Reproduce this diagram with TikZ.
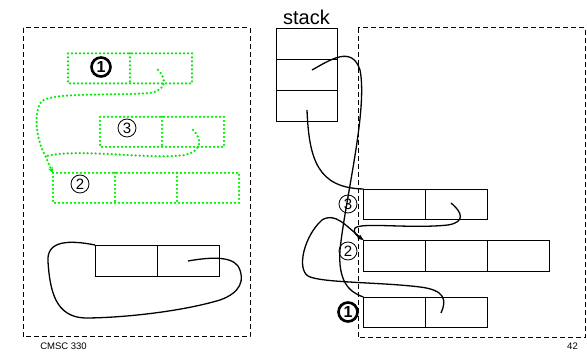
\documentclass[tikz,border=0pt]{standalone}
\usepackage{fontspec}
\setmainfont{Liberation Sans}
\usetikzlibrary{arrows.meta}
\definecolor{gr}{RGB}{0,235,0}
\begin{document}
\begin{tikzpicture}[x=1pt,y=-1pt,
 cell/.style={draw, minimum width=62pt, minimum height=30pt, inner sep=0pt, outer sep=0pt, line width=0.8pt},
 gcell/.style={cell, draw=none},
 gdot/.style={draw=gr, line width=2.5pt, dash pattern=on 0pt off 4pt, line cap=round},
 frame/.style={draw, line width=1pt, dash pattern=on 5pt off 3pt},
 ptr/.style={line width=1.3pt},
 gptr/.style={gdot},
 num/.style={circle, draw, line width=0.8pt, minimum size=18pt, inner sep=0pt, font=\fontsize{15}{15}\selectfont},
 bnum/.style={num, line width=2.6pt, minimum size=19pt, font=\fontsize{16}{16}\selectfont\bfseries},
 lbl/.style={font=\fontsize{9.5}{10}\selectfont},
]
\useasboundingbox (0,0) rectangle (587,352);

% frames
\draw[frame] (23,28) rectangle (250,337);
\draw[frame] (358,28) rectangle (585,338);

% stack
\node[font=\fontsize{20}{20}\selectfont, anchor=base] (stacklbl) at (306.5,25) {stack};
\node[cell, minimum width=61pt, minimum height=31pt] (s1) at (306.5,43.5) {};
\node[cell, minimum width=61pt, minimum height=31pt] (s2) at (306.5,74.5) {};
\node[cell, minimum width=61pt, minimum height=31pt] (s3) at (306.5,105.5) {};

% green boxes
\node[gcell] (g1a) at (99,68.5) {};
\node[gcell] (g1b) at (161,68.5) {};
\node[gcell] (g3a) at (131,132) {};
\node[gcell] (g3b) at (193,132) {};
\node[gcell] (g2a) at (84,188) {};
\node[gcell] (g2b) at (146,188) {};
\node[gcell] (g2c) at (208,188) {};
\draw[gdot] (g1a.north west) rectangle (g1b.south east);
\draw[gdot] (g1a.north east) -- (g1a.south east);
\draw[gdot] (g3a.north west) rectangle (g3b.south east);
\draw[gdot] (g3a.north east) -- (g3a.south east);
\draw[gdot] (g2a.north west) rectangle (g2c.south east);
\draw[gdot] (g2a.north east) -- (g2a.south east);
\draw[gdot] (g2b.north east) -- (g2b.south east);
\node[bnum] (gn1) at (101,67) {1};
\node[num] (gn3) at (127,128) {3};
\node[num] (gn2) at (80,184) {2};

% black left box
\node[cell, minimum height=31pt] (ba) at (126,260.5) {};
\node[cell, minimum height=31pt] (bb) at (188,260.5) {};

% right boxes
\node[cell] (r3a) at (394.5,204) {};
\node[cell] (r3b) at (456.5,204) {};
\node[cell, minimum height=31pt] (r2a) at (394.5,255.5) {};
\node[cell, minimum height=31pt] (r2b) at (456.5,255.5) {};
\node[cell, minimum height=31pt] (r2c) at (518.5,255.5) {};
\node[cell] (r1a) at (394.5,312) {};
\node[cell] (r1b) at (456.5,312) {};
\node[num] (rn3) at (348,204) {3};
\node[num] (rn2) at (348,251) {2};
\node[bnum] (rn1) at (348,312) {1};

% pointer start points
\coordinate (gp1) at (158,70);
\coordinate (gp3) at (193,130);
\coordinate (bp) at (188,261);
\coordinate (sp2) at (312,70);
\coordinate (sp3) at (307,110);
\coordinate (rp3) at (451,203);
\coordinate (rp1) at (441,313);

% green pointers
\draw[gptr, -{Stealth[length=6pt,width=5pt]}] (gp1) .. controls (166,78) and (168,90) .. (150,93)
  .. controls (110,96) and (55,92) .. (42,101)
  .. controls (33,110) and (36,140) .. (45,155)
  .. controls (48,162) and (50,167) .. (g2a.north west);
\draw[gptr] (gp3) .. controls (201,138) and (204,150) .. (185,155)
  .. controls (150,160) and (80,148) .. (47,156);

% black left loop
\draw[ptr] (bp) .. controls (205,258) and (230,255) .. (238,266)
  .. controls (246,280) and (240,293) .. (220,300)
  .. controls (180,312) and (120,318) .. (85,318)
  .. controls (55,317) and (50,290) .. (48,262)
  .. controls (46,240) and (70,240) .. (ba.north west);

% stack pointers
\draw[ptr] (sp2) .. controls (330,60) and (352,45) .. (360,70)
  .. controls (368,110) and (345,200) .. (340,250)
  .. controls (338,280) and (348,292) .. (r1a.north west);
\draw[ptr] (sp3) .. controls (309,160) and (318,188) .. (r3a.north west);

% heap pointers
\draw[ptr, -{Stealth[length=6pt,width=4pt]}] (rp3) .. controls (462,212) and (466,222) .. (448,225)
  .. controls (410,229) and (362,222) .. (355,228)
  .. controls (352,232) and (358,237) .. (r2a.north west);
\draw[ptr, -{Stealth[length=6pt,width=4pt]}] (rp1) .. controls (447,300) and (445,290) .. (420,287)
  .. controls (380,282) and (320,283) .. (308,276)
  .. controls (296,268) and (305,235) .. (322,220)
  .. controls (335,212) and (345,225) .. (r2a.north west);

% footer
\node[lbl] (cmsc) at (63.5,346) {CMSC 330};
\node[lbl] (pg) at (572.5,346) {42};
\end{tikzpicture}
\end{document}
